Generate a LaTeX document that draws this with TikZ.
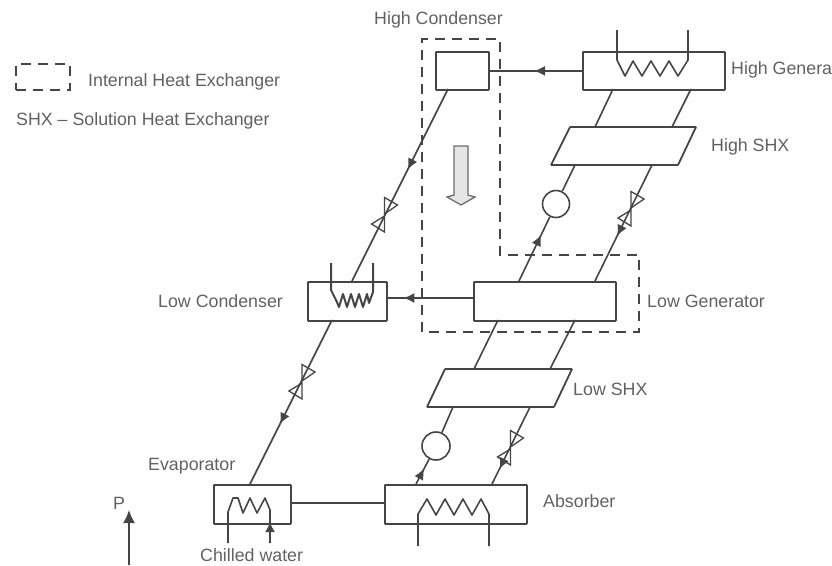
\documentclass[tikz,border=0pt]{standalone}
\usepackage{fontspec}
\setmainfont{Liberation Sans}
\usetikzlibrary{arrows.meta,decorations.markings,calc}
\definecolor{ink}{gray}{0.27}
\definecolor{txt}{gray}{0.38}
\tikzset{
  x=1pt,y=-1pt,
  line/.style={draw=ink,line width=1.6pt},
  thin line/.style={draw=ink,line width=1.3pt},
  box/.style={draw=ink,line width=1.8pt,rounded corners=0.6pt},
  dashbox/.style={draw=ink,line width=1.6pt,dash pattern=on 10pt off 7pt},
  lab/.style={text=txt,font=\fontsize{17.8}{20}\selectfont,inner sep=0pt,anchor=west},
  arrowat/.style={postaction={decorate},decoration={markings,mark=at position #1 with {\arrow{Latex[length=11pt,width=10pt]}}}},
  valve/.pic={\draw[thin line] (0,-17.5) -- (13,-10) -- (0,-1) -- cycle;
              \draw[thin line] (0,1) -- (-13,9) -- (0,17) -- cycle;},
}
\newcommand{\boxnode}[5]{\node[box,inner sep=0pt,minimum width=#4*1pt-#2*1pt,minimum height=#5*1pt-#3*1pt,anchor=north west] (#1) at (#2,#3) {};}
\begin{document}
\begin{tikzpicture}
\useasboundingbox (0,0) rectangle (832,565);
% boxes
\boxnode{hc}{435}{51}{488}{89}
\boxnode{hg}{582}{51}{724}{89}
\boxnode{lg}{473}{281}{615}{320}
\boxnode{lc}{307}{281}{386}{320}
\boxnode{ev}{213}{484}{290}{523}
\boxnode{ab}{384}{484}{526}{523}
% heat exchangers
\draw[box] (570,127) coordinate (hsA) -- (696,127) coordinate (hsB) -- (678,165) coordinate (hsC) -- (551,165) coordinate (hsD) -- cycle;
\draw[box] (445,369) coordinate (lsA) -- (572,369) coordinate (lsB) -- (554,407) coordinate (lsC) -- (427,407) coordinate (lsD) -- cycle;
% pumps
\node[draw=ink,line width=1.6pt,circle,minimum size=27pt,inner sep=0pt] (hp) at (556,204) {};
\node[draw=ink,line width=1.6pt,circle,minimum size=28pt,inner sep=0pt] (lp) at (436,446) {};
% connection points
\coordinate (hgA) at (613,89); \coordinate (hgB) at (691,89);
\coordinate (hsP) at (595,127); \coordinate (hsQ) at (672,127);
\coordinate (hsR) at (575,165); \coordinate (hsS) at (652,165);
\coordinate (lgA) at (519,281); \coordinate (lgB) at (595,281);
\coordinate (lgC) at (498,320); \coordinate (lgD) at (575,320);
\coordinate (lsP) at (474,369); \coordinate (lsQ) at (550,369);
\coordinate (lsR) at (453,407); \coordinate (lsS) at (530,407);
\coordinate (abA) at (416,484); \coordinate (abB) at (492,484);
\coordinate (hcO) at (448,89); \coordinate (lcI) at (352,281);
\coordinate (lcO) at (332,320); \coordinate (evI) at (250,484);
\coordinate (lgW) at (473,298); \coordinate (lcE) at (386,298);
\coordinate (evE) at (290,503); \coordinate (abW) at (384,503);
% connectors
\draw[line,arrowat=0.52] (hg.west) -- (hc.east);
\draw[line,arrowat=0.8] (lgW) -- (lcE);
\draw[line] (evE) -- (abW);
\draw[line] (hgA) -- (hsP);
\draw[line] (hgB) -- (hsQ);
\draw[line] (hsR) -- (hp);
\draw[line,arrowat=0.72] (lgA) -- (hp);
\draw[line,arrowat=0.612] (hsS) -- (lgB);
\draw[line] (lgC) -- (lsP);
\draw[line] (lgD) -- (lsQ);
\draw[line] (lsR) -- (lp);
\draw[line,arrowat=0.62] (abA) -- (lp);
\draw[line,arrowat=0.805] (lsS) -- (abB);
\draw[line,arrowat=0.42] (hcO) -- (lcI);
\draw[line,arrowat=0.634] (lcO) -- (evI);
% valves
\pic at (631,209) {valve};
\pic at (510.5,448) {valve};
\pic at (384.5,215) {valve};
\pic at (302,382) {valve};
% coils
\draw[line,line join=round] (617,30) -- (617,60) -- (625,76) -- (633,61) -- (642,76) -- (651,61) -- (660,76) -- (669,61) -- (678,76) -- (688,60) -- (688,30);
\draw[line,line width=2pt,line join=round] (331,263) -- (331,290) -- (336,300) -- (339,307) -- (343,294) -- (347,307) -- (351,294) -- (355,307) -- (359,294) -- (363,307) -- (367,294) -- (369,303) -- (373,292) -- (373,263);
\draw[line,line join=round] (228,543) -- (228,512) -- (233,498) -- (238,498) -- (243,513) -- (250,498) -- (257,513) -- (265,498) -- (270,510) -- (270,543);
\draw[line,line join=round] (418,546) -- (418,514) -- (427,499) -- (436,515) -- (445,499) -- (454,515) -- (463,499) -- (472,515) -- (481,499) -- (489,514) -- (489,546);
% small arrows
\coordinate (cwS) at (270,543); \coordinate (cwE) at (270,522);
\draw[line,-{Latex[length=10pt,width=10pt]}] (cwS) -- (cwE);
\coordinate (pS) at (129,565); \coordinate (pE) at (129,510);
\draw[line,-{Latex[length=13pt,width=12pt]}] (pS) -- (pE);
% dashed regions
\draw[dashbox] (422,332) -- (422,39) -- (500,39) -- (500,255) -- (639,255) -- (639,332) -- cycle;
\node[dashbox,inner sep=0pt,minimum width=54pt,minimum height=26pt,anchor=north west] (legend) at (15,63) {};
% heat arrow
\draw[draw=gray!85!black,fill=gray!20,line width=1.3pt,line join=miter] (454,146) -- (468,146) -- (468,195) -- (475,197) -- (461,205) -- (447,197) -- (454,195) -- cycle;
% labels
\node[lab] (t1) at (374,20) {High Condenser};
\node[lab] (t2) at (731,70) {High Genera};
\node[lab] (t3) at (711,147) {High SHX};
\node[lab] (t4) at (647,301) {Low Generator};
\node[lab] (t5) at (573,389) {Low SHX};
\node[lab] (t6) at (543,501) {Absorber};
\node[lab] (t7) at (158,301) {Low Condenser};
\node[lab] (t8) at (148,466) {Evaporator};
\node[lab] (t9) at (200,555) {Chilled water};
\node[lab] (t10) at (113,503) {P};
\node[lab] (t11) at (88,82) {Internal Heat Exchanger};
\node[lab] (t12) at (16,121) {SHX – Solution Heat Exchanger};
\end{tikzpicture}
\end{document}
